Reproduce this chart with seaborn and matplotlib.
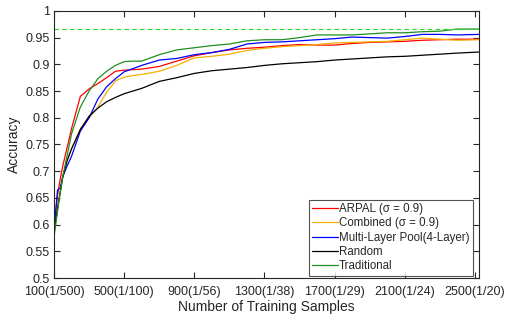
import numpy as np
import pandas as pd
import matplotlib
matplotlib.use("Agg")
import matplotlib.pyplot as plt
import seaborn as sns

# data

samples = [100, 120, 135, 150, 175, 200, 250, 300, 350, 400, 450, 500, 550, 600,
           700, 800, 900, 1000, 1100, 1200, 1300, 1400, 1500, 1600, 1700, 1800,
           1900, 2000, 2100, 2200, 2300, 2400, 2525]

arpal = [0.595, 0.655, 0.685, 0.71, 0.745, 0.78, 0.84, 0.854, 0.864, 0.875, 0.887, 0.889, 0.890, 0.891,
         0.896, 0.906, 0.916, 0.922, 0.927, 0.930, 0.932, 0.935, 0.937, 0.936, 0.936, 0.939,
         0.941, 0.942, 0.943, 0.945, 0.946, 0.947, 0.947]

combined = [0.585, 0.635, 0.66, 0.69, 0.72, 0.742, 0.779, 0.80, 0.82, 0.848, 0.869, 0.876, 0.879, 0.881,
            0.887, 0.898, 0.912, 0.915, 0.919, 0.926, 0.930, 0.933, 0.935, 0.937, 0.940, 0.941,
            0.942, 0.943, 0.946, 0.949, 0.947, 0.945, 0.946]

multilayer = [0.59, 0.665, 0.668, 0.69, 0.71, 0.728, 0.775, 0.80, 0.835, 0.858, 0.873, 0.886, 0.892, 0.898,
              0.908, 0.911, 0.918, 0.922, 0.928, 0.938, 0.941, 0.942, 0.944, 0.946, 0.948, 0.951,
              0.950, 0.949, 0.952, 0.956, 0.956, 0.955, 0.956]

random_sel = [0.585, 0.63, 0.66, 0.69, 0.72, 0.742, 0.778, 0.803, 0.818, 0.83, 0.838, 0.845, 0.85, 0.855,
              0.868, 0.875, 0.883, 0.888, 0.891, 0.894, 0.898, 0.901, 0.903, 0.905, 0.908, 0.910,
              0.912, 0.914, 0.915, 0.917, 0.919, 0.921, 0.923]

traditional = [0.577, 0.625, 0.66, 0.69, 0.73, 0.77, 0.82, 0.85, 0.873, 0.887, 0.898, 0.905, 0.906, 0.906,
               0.918, 0.927, 0.931, 0.935, 0.938, 0.944, 0.946, 0.946, 0.950, 0.955, 0.955, 0.955,
               0.957, 0.959, 0.959, 0.961, 0.962, 0.966, 0.966]

upper_bound = 0.966

series_names = ["ARPAL (σ = 0.9)", "Combined (σ = 0.9)", "Multi-Layer Pool(4-Layer)", "Random", "Traditional"]
series_colors = ["#ff0000", "#f5b000", "#0000ff", "#000000", "#1f8f1f"]

xtick_values = [100, 500, 900, 1300, 1700, 2100, 2500]
xtick_labels = ["100(1/500)", "500(1/100)", "900(1/56)", "1300(1/38)", "1700(1/29)", "2100(1/24)", "2500(1/20)"]
ytick_values = [0.5, 0.55, 0.6, 0.65, 0.7, 0.75, 0.8, 0.85, 0.9, 0.95, 1.0]
ytick_labels = ["0.5", "0.55", "0.6", "0.65", "0.7", "0.75", "0.8", "0.85", "0.9", "0.95", "1"]

# long-form table for seaborn

frames = []
for name, vals in zip(series_names, [arpal, combined, multilayer, random_sel, traditional]):
    frames.append(pd.DataFrame({"samples": samples, "accuracy": vals, "method": name}))
df = pd.concat(frames, ignore_index=True)

sns.set_style("ticks")
plt.rcParams["font.family"] = ["Liberation Sans", "DejaVu Sans"]

fig = plt.figure(figsize=(5.05, 3.2), dpi=100)
ax = fig.add_axes([0.107, 0.131, 0.842, 0.835])

sns.lineplot(data=df, x="samples", y="accuracy", hue="method", hue_order=series_names,
             palette=dict(zip(series_names, series_colors)), linewidth=0.9, ax=ax)

ax.axhline(upper_bound, color="#22dd22", linestyle=(0, (4, 3)), linewidth=0.8)

ax.set_xlim(100, 2525)
ax.set_ylim(0.5, 1.0)
ax.set_xticks(xtick_values)
ax.set_xticklabels(xtick_labels)
ax.set_yticks(ytick_values)
ax.set_yticklabels(ytick_labels)
ax.set_xlabel("Number of Training Samples", fontsize=10, color="#262626", labelpad=1)
ax.set_ylabel("Accuracy", fontsize=10, color="#262626", labelpad=3)
ax.tick_params(direction="in", top=True, right=True, labelsize=9, colors="#262626",
               length=4, width=0.8, pad=3)
ax.tick_params(axis="x", pad=6)
for s in ax.spines.values():
    s.set_visible(True)
    s.set_color("#262626")
    s.set_linewidth(0.8)

leg = ax.legend(loc="lower right", bbox_to_anchor=(0.99, 0.0), fontsize=8.3, frameon=True,
                fancybox=False, edgecolor="#262626", handlelength=2.2, handletextpad=0.1,
                labelspacing=0.2, borderpad=0.3, borderaxespad=0.2, title=None)
leg.get_frame().set_linewidth(0.8)
for line in leg.get_lines():
    line.set_linewidth(0.9)

fig.savefig("out.png", dpi=100)
